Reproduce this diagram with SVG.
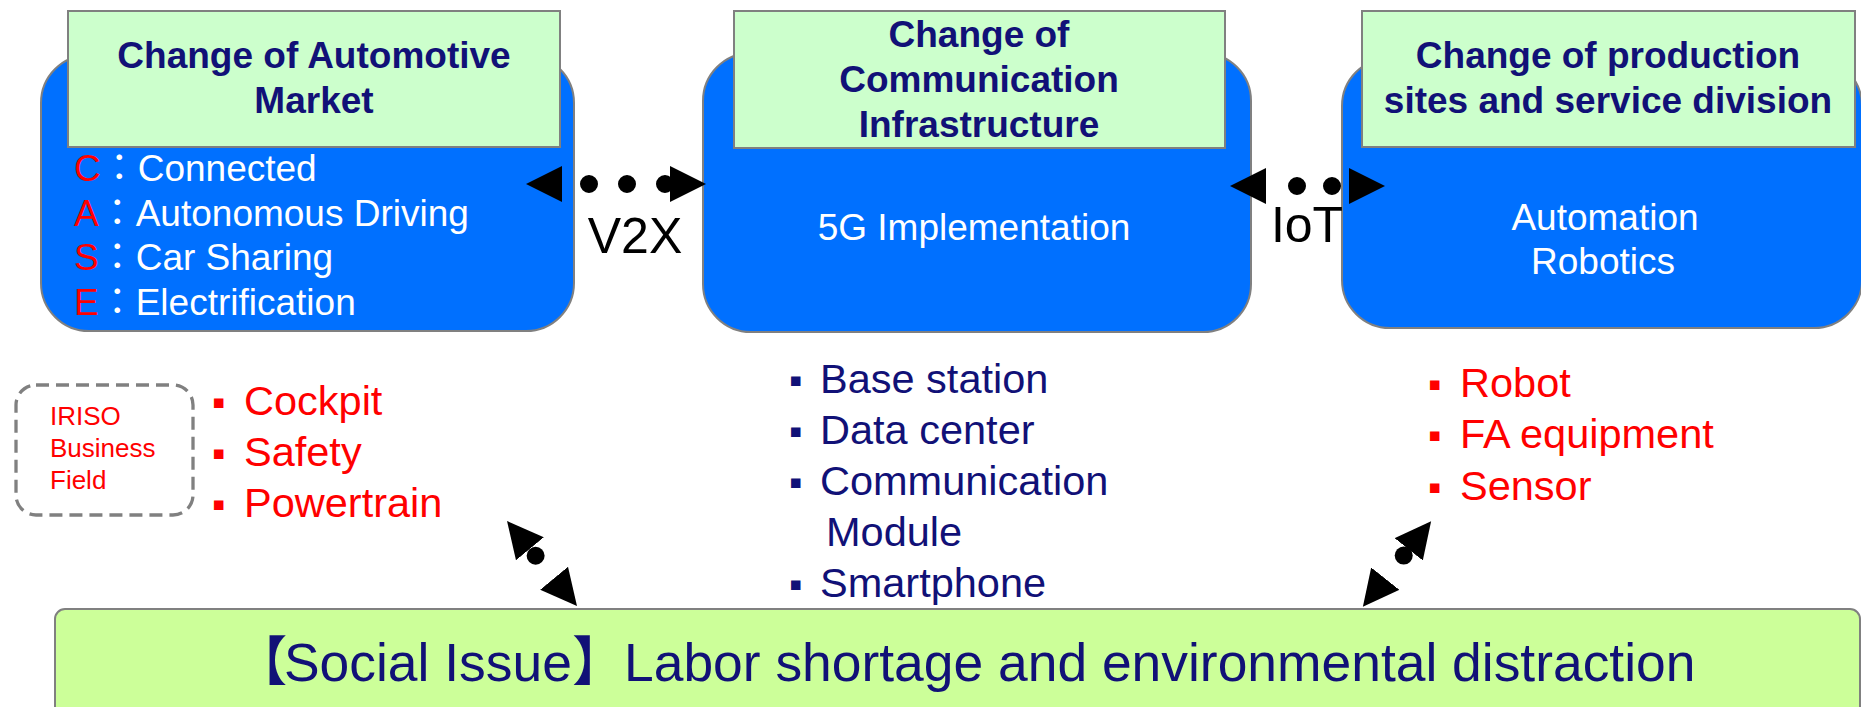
<svg xmlns="http://www.w3.org/2000/svg" width="1861" height="707" viewBox="0 0 1861 707">
<style>
text{font-family:"Liberation Sans",Arial,"Noto Sans CJK JP",sans-serif;}
.blue{fill:#0070FF;stroke:#808080;stroke-width:2;}
.hdr{fill:#CCFFCC;stroke:#808080;stroke-width:2;}
.title{font-weight:bold;font-size:37px;fill:#111177;text-anchor:middle;}
.body{font-size:37px;fill:#FFFFFF;}
.mid{text-anchor:middle;}
.red{fill:#FF0000;}
.navy{fill:#111177;}
.item{font-size:41.5px;}
.bul{font-size:38px;}
.lbl{font-size:50px;fill:#000000;text-anchor:middle;}
.dots{fill:none;stroke:#000;stroke-linecap:round;stroke-width:18;marker-start:url(#ah);marker-end:url(#ah);}
</style>
<defs>
<marker id="ah" viewBox="0 -18 36 36" refX="0" refY="0" markerWidth="36" markerHeight="36" markerUnits="userSpaceOnUse" orient="auto-start-reverse">
<path d="M0,-18 L36,0 L0,18 Z" fill="#000"/>
</marker>
</defs>
<rect width="1861" height="707" fill="#FFFFFF"/>

<g id="node-automotive">
<rect class="blue" x="41" y="55" width="533" height="276" rx="48"/>
<rect class="hdr" x="68" y="11" width="492" height="136"/>
<text class="title" x="314" y="68">Change of Automotive</text>
<text class="title" x="314" y="113">Market</text>
<text class="body" x="74" y="181"><tspan class="red">C</tspan>：Connected</text>
<text class="body" x="74" y="226"><tspan class="red">A</tspan>：Autonomous Driving</text>
<text class="body" x="74" y="270"><tspan class="red">S</tspan>：Car Sharing</text>
<text class="body" x="74" y="315"><tspan class="red">E</tspan>：Electrification</text>
</g>

<g id="node-communication">
<rect class="blue" x="703" y="53" width="548" height="279" rx="48"/>
<rect class="hdr" x="734" y="11" width="491" height="137"/>
<text class="title" x="979" y="47">Change of</text>
<text class="title" x="979" y="92">Communication</text>
<text class="title" x="979" y="137">Infrastructure</text>
<text class="body mid" x="974" y="240">5G Implementation</text>
</g>

<g id="node-production">
<rect class="blue" x="1342" y="58" width="520" height="270" rx="48"/>
<rect class="hdr" x="1362" y="11" width="493" height="136"/>
<text class="title" x="1608" y="68">Change of production</text>
<text class="title" x="1608" y="113">sites and service division</text>
<text class="body mid" x="1605" y="230">Automation</text>
<text class="body mid" x="1603" y="274">Robotics</text>
</g>

<g id="node-iriso">
<rect x="16" y="385" width="177" height="130" rx="20" fill="none" stroke="#808080" stroke-width="3.3" stroke-dasharray="13 7"/>
<text class="red" font-size="26" x="50" y="425">IRISO</text>
<text class="red" font-size="26" x="50" y="457">Business</text>
<text class="red" font-size="26" x="50" y="489">Field</text>
</g>

<g id="list-automotive" class="red">
<text class="item"><tspan class="bul" x="212" y="415">▪</tspan><tspan x="244" y="415">Cockpit</tspan></text>
<text class="item"><tspan class="bul" x="212" y="466">▪</tspan><tspan x="244" y="466">Safety</tspan></text>
<text class="item"><tspan class="bul" x="212" y="517">▪</tspan><tspan x="244" y="517">Powertrain</tspan></text>
</g>

<g id="list-communication" class="navy">
<text class="item"><tspan class="bul" x="789" y="393">▪</tspan><tspan x="820" y="393">Base station</tspan></text>
<text class="item"><tspan class="bul" x="789" y="444">▪</tspan><tspan x="820" y="444">Data center</tspan></text>
<text class="item"><tspan class="bul" x="789" y="495">▪</tspan><tspan x="820" y="495">Communication</tspan></text>
<text class="item" x="826" y="546">Module</text>
<text class="item"><tspan class="bul" x="789" y="597">▪</tspan><tspan x="820" y="597">Smartphone</tspan></text>
</g>

<g id="list-production" class="red">
<text class="item"><tspan class="bul" x="1428" y="397">▪</tspan><tspan x="1460" y="397">Robot</tspan></text>
<text class="item"><tspan class="bul" x="1428" y="448">▪</tspan><tspan x="1460" y="448">FA equipment</tspan></text>
<text class="item"><tspan class="bul" x="1428" y="500">▪</tspan><tspan x="1460" y="500">Sensor</tspan></text>
</g>

<g id="node-social">
<rect x="55" y="609" width="1805" height="130" rx="10" fill="#CCFF99" stroke="#808080" stroke-width="2"/>
<text class="navy" font-size="53.4" y="681"><tspan x="234">【</tspan><tspan x="284">Social Issue</tspan>】<tspan x="624">Labor shortage and environmental distraction</tspan></text>
</g>

<g id="connectors">
<path class="dots" d="M562,184 H670" stroke-dasharray="0 38" stroke-dashoffset="11"/>
<text class="lbl" x="635" y="253" font-size="52">V2X</text>
<path class="dots" d="M1266,186 H1349" stroke-dasharray="0 35" stroke-dashoffset="4"/>
<text class="lbl" x="1307" y="242" font-size="52">IoT</text>
<path class="dots" d="M529.9,548.8 L554.1,578.2" stroke-dasharray="0 38" stroke-dashoffset="29"/>
<path class="dots" d="M1408.7,549.3 L1385.3,578.7" stroke-dasharray="0 38" stroke-dashoffset="30"/>
</g>
</svg>
